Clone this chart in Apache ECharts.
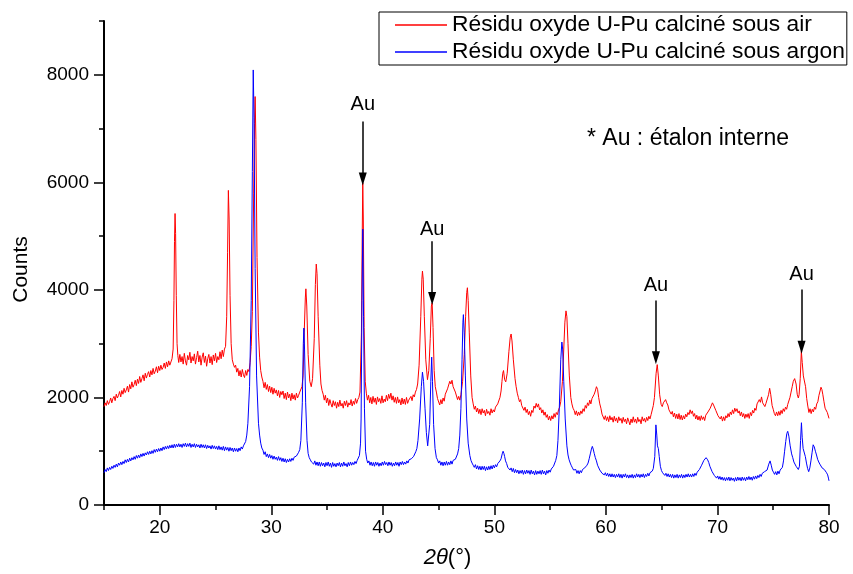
<!DOCTYPE html>
<html><head><meta charset="utf-8">
<script src="https://cdn.jsdelivr.net/npm/echarts@6/dist/echarts.min.js"></script>
<style>html,body{margin:0;padding:0;background:#fff}#c{width:853px;height:574px}</style>
</head><body><div id="c"></div>
<script>
const seriesNames = ['Résidu oxyde U-Pu calciné sous air', 'Résidu oxyde U-Pu calciné sous argon'];
const xAxisTitle = '{it|2θ}(°)';
const yAxisTitle = 'Counts';
const noteText = '* Au : étalon interne';
const markerLabel = 'Au';
const xTicks = [20, 30, 40, 50, 60, 70, 80];
const xMinorTicks = [15, 25, 35, 45, 55, 65, 75];
const yTicks = [0, 2000, 4000, 6000, 8000];
const yMinorTicks = [1000, 3000, 5000, 7000, 9000];

// [2θ, counts]
const airScan = [
[15.0,1830],[15.1,1900],[15.2,1850],[15.3,1940],[15.4,1870],[15.5,1920],[15.6,1990],[15.7,1900],[15.8,1980],[15.9,2020],
[16.0,1940],[16.1,2060],[16.2,1990],[16.3,2040],[16.4,2110],[16.5,2010],[16.6,2130],[16.7,2060],[16.8,2170],[16.9,2090],
[17.0,2140],[17.1,2210],[17.2,2100],[17.3,2240],[17.4,2160],[17.5,2290],[17.6,2190],[17.7,2240],[17.8,2320],[17.9,2220],
[18.0,2340],[18.1,2260],[18.2,2390],[18.3,2280],[18.4,2350],[18.5,2420],[18.6,2310],[18.7,2450],[18.8,2360],[18.9,2430],
[19.0,2480],[19.1,2380],[19.2,2500],[19.3,2420],[19.4,2540],[19.5,2440],[19.6,2490],[19.7,2570],[19.8,2460],[19.9,2580],
[20.0,2500],[20.1,2600],[20.2,2520],[20.3,2560],[20.4,2640],[20.5,2540],[20.6,2660],[20.7,2570],[20.8,2680],[20.9,2600],
[21.0,2660],[21.1,2720],[21.2,2900],[21.27,3800],[21.32,4900],[21.37,5420],[21.42,5050],[21.48,3900],[21.55,3000],[21.62,2780],
[21.7,2650],[21.8,2800],[21.9,2660],[22.0,2760],[22.1,2620],[22.2,2820],[22.3,2680],[22.4,2600],[22.5,2780],[22.6,2700],
[22.7,2840],[22.8,2640],[22.9,2760],[23.0,2680],[23.1,2810],[23.2,2620],[23.3,2740],[23.4,2860],[23.5,2660],[23.6,2780],
[23.7,2600],[23.8,2750],[23.9,2830],[24.0,2650],[24.1,2770],[24.2,2580],[24.3,2720],[24.4,2800],[24.5,2640],[24.6,2760],
[24.7,2610],[24.8,2790],[24.9,2680],[25.0,2820],[25.1,2650],[25.2,2760],[25.3,2700],[25.4,2850],[25.5,2720],[25.6,2880],
[25.7,2760],[25.8,2900],[25.9,2950],[26.0,3500],[26.08,4700],[26.15,5850],[26.22,5300],[26.3,3900],[26.4,3000],[26.5,2700],
[26.6,2620],[26.7,2560],[26.8,2600],[26.9,2470],[27.0,2540],[27.1,2400],[27.2,2500],[27.3,2380],[27.4,2520],[27.5,2420],
[27.6,2370],[27.7,2500],[27.8,2410],[27.9,2520],[28.0,2480],[28.1,2650],[28.2,2950],[28.3,3600],[28.42,5800],[28.5,7100],
[28.55,7595],[28.62,6800],[28.72,4600],[28.85,3200],[28.95,2750],[29.05,2500],[29.15,2380],[29.25,2300],[29.35,2180],[29.45,2280],
[29.55,2150],[29.65,2240],[29.75,2110],[29.85,2210],[29.95,2090],[30.05,2190],[30.15,2060],[30.25,2170],[30.35,2080],[30.45,2140],
[30.55,2030],[30.65,2130],[30.75,2000],[30.85,2110],[30.95,2050],[31.05,2120],[31.15,1980],[31.25,2080],[31.35,1960],[31.45,2100],
[31.55,1990],[31.65,2060],[31.75,1940],[31.85,2080],[31.95,1970],[32.05,2050],[32.15,1950],[32.25,2080],[32.35,1990],[32.45,2040],
[32.55,2100],[32.65,2070],[32.75,2200],[32.85,2400],[32.95,3200],[33.05,3850],[33.1,4020],[33.18,3700],[33.3,2800],[33.45,2300],
[33.58,2200],[33.7,2350],[33.85,3100],[33.95,4100],[34.03,4480],[34.1,4300],[34.2,3500],[34.35,2600],[34.45,2250],[34.55,2130],
[34.65,2060],[34.75,1950],[34.85,2040],[34.95,1900],[35.05,1990],[35.15,1850],[35.25,1960],[35.35,1880],[35.45,1820],[35.55,1940],
[35.65,1850],[35.75,1920],[35.85,1800],[35.95,1910],[36.05,1830],[36.15,1950],[36.25,1840],[36.35,1890],[36.45,1800],[36.55,1930],
[36.65,1850],[36.75,1940],[36.85,1820],[36.95,1900],[37.05,1860],[37.15,1960],[37.25,1840],[37.35,1930],[37.45,1870],[37.55,1980],
[37.65,1890],[37.75,1960],[37.85,2000],[37.95,2100],[38.08,3200],[38.15,5000],[38.2,5990],[38.25,5300],[38.32,3300],[38.42,2300],
[38.52,2080],[38.62,1950],[38.72,2040],[38.82,1900],[38.92,2000],[39.02,1880],[39.12,2020],[39.22,1910],[39.32,1990],[39.42,1870],
[39.52,2010],[39.62,1920],[39.72,1980],[39.82,1890],[39.92,2030],[40.02,1900],[40.12,1970],[40.22,1920],[40.32,2040],[40.42,1940],
[40.52,2060],[40.62,1980],[40.72,2080],[40.82,1950],[40.92,2030],[41.02,1910],[41.12,2000],[41.22,1890],[41.32,2010],[41.42,1900],
[41.52,1960],[41.62,1860],[41.72,1990],[41.82,1880],[41.92,1970],[42.02,1870],[42.12,2000],[42.22,1890],[42.32,1950],[42.42,1920],
[42.52,2020],[42.62,1940],[42.72,2050],[42.82,2010],[42.92,2100],[43.02,2150],[43.12,2250],[43.25,2600],[43.4,3500],[43.5,4200],
[43.55,4350],[43.62,4200],[43.72,3500],[43.85,2700],[44.0,2330],[44.12,2500],[44.25,3100],[44.35,3700],[44.42,3760],[44.5,3300],
[44.6,2500],[44.7,2200],[44.8,2100],[44.9,1980],[45.0,1950],[45.1,1860],[45.2,1960],[45.3,1880],[45.4,1990],[45.5,1930],
[45.6,2060],[45.7,2030],[45.8,2160],[45.9,2150],[46.0,2300],[46.1,2250],[46.2,2320],[46.3,2200],[46.4,2230],[46.5,2100],
[46.6,2080],[46.7,1960],[46.8,2020],[46.9,1950],[47.0,2050],[47.15,2300],[47.3,2800],[47.42,3500],[47.52,3950],[47.58,4040],
[47.65,3800],[47.75,3200],[47.88,2400],[48.0,2000],[48.1,1880],[48.2,1780],[48.3,1840],[48.4,1730],[48.5,1800],[48.6,1700],
[48.7,1780],[48.8,1680],[48.9,1790],[49.0,1710],[49.1,1760],[49.2,1660],[49.3,1780],[49.4,1700],[49.5,1740],[49.6,1670],
[49.7,1790],[49.8,1710],[49.9,1770],[50.0,1730],[50.1,1820],[50.2,1790],[50.3,1880],[50.4,1900],[50.5,2000],[50.6,2120],
[50.68,2300],[50.75,2450],[50.82,2500],[50.92,2330],[51.02,2290],[51.15,2450],[51.3,2850],[51.42,3120],[51.5,3180],[51.58,3050],
[51.7,2700],[51.85,2350],[51.95,2200],[52.05,2080],[52.15,2000],[52.25,1920],[52.35,1960],[52.45,1850],[52.55,1870],[52.65,1760],
[52.75,1820],[52.85,1720],[52.95,1780],[53.05,1680],[53.15,1740],[53.25,1650],[53.35,1760],[53.45,1720],[53.55,1840],[53.65,1800],
[53.75,1890],[53.85,1820],[53.95,1880],[54.05,1770],[54.15,1810],[54.25,1710],[54.35,1770],[54.45,1670],[54.55,1730],[54.65,1630],
[54.75,1680],[54.85,1580],[54.95,1650],[55.05,1570],[55.15,1660],[55.25,1600],[55.35,1700],[55.45,1630],[55.55,1720],[55.65,1680],
[55.75,1770],[55.85,1820],[55.95,1920],[56.1,2300],[56.22,2900],[56.32,3400],[56.42,3610],[56.5,3500],[56.6,3000],[56.72,2400],
[56.85,2000],[56.95,1880],[57.05,1800],[57.15,1760],[57.25,1680],[57.35,1750],[57.45,1660],[57.55,1730],[57.65,1670],[57.75,1750],
[57.85,1700],[57.95,1790],[58.05,1740],[58.15,1850],[58.25,1800],[58.35,1900],[58.45,1850],[58.55,1950],[58.65,1880],[58.75,1980],
[58.85,1970],[58.95,2060],[59.05,2120],[59.15,2200],[59.25,2150],[59.35,2000],[59.45,1880],[59.55,1800],[59.65,1690],[59.75,1680],
[59.85,1590],[59.95,1660],[60.05,1570],[60.15,1640],[60.25,1550],[60.35,1660],[60.45,1580],[60.55,1630],[60.65,1540],[60.75,1650],
[60.85,1560],[60.95,1620],[61.05,1530],[61.15,1640],[61.25,1570],[61.35,1610],[61.45,1520],[61.55,1630],[61.65,1550],[61.75,1600],
[61.85,1510],[61.95,1620],[62.05,1560],[62.15,1490],[62.25,1600],[62.35,1530],[62.45,1640],[62.55,1540],[62.65,1600],[62.75,1520],
[62.85,1630],[62.95,1550],[63.05,1590],[63.15,1510],[63.25,1640],[63.35,1560],[63.45,1610],[63.55,1540],[63.65,1630],[63.75,1570],
[63.85,1650],[63.95,1600],[64.05,1680],[64.15,1700],[64.25,1850],[64.35,2000],[64.5,2450],[64.6,2610],[64.7,2400],[64.82,2050],
[64.95,1870],[65.05,1830],[65.15,1900],[65.25,1870],[65.35,1960],[65.45,1900],[65.55,1860],[65.65,1770],[65.75,1790],[65.85,1690],
[65.95,1740],[66.05,1640],[66.15,1710],[66.25,1610],[66.35,1690],[66.45,1600],[66.55,1700],[66.65,1590],[66.75,1670],[66.85,1580],
[66.95,1660],[67.05,1600],[67.15,1690],[67.25,1640],[67.35,1720],[67.45,1680],[67.55,1770],[67.65,1700],[67.75,1750],[67.85,1650],
[67.95,1700],[68.05,1600],[68.15,1670],[68.25,1580],[68.35,1650],[68.45,1570],[68.55,1660],[68.65,1590],[68.75,1640],[68.85,1570],
[68.95,1670],[69.05,1640],[69.15,1730],[69.25,1720],[69.35,1800],[69.45,1820],[69.55,1900],[69.65,1860],[69.75,1840],[69.85,1760],
[69.95,1750],[70.05,1660],[70.15,1690],[70.25,1600],[70.35,1650],[70.45,1560],[70.55,1640],[70.65,1570],[70.75,1660],[70.85,1620],
[70.95,1700],[71.05,1640],[71.15,1730],[71.25,1680],[71.35,1770],[71.45,1700],[71.55,1800],[71.65,1740],[71.75,1790],[71.85,1710],
[71.95,1750],[72.05,1660],[72.15,1730],[72.25,1640],[72.35,1700],[72.45,1610],[72.55,1690],[72.65,1630],[72.75,1700],[72.85,1610],
[72.95,1720],[73.05,1660],[73.15,1760],[73.25,1710],[73.35,1800],[73.45,1760],[73.55,1880],[73.65,1850],[73.75,1960],[73.85,1910],
[73.95,2010],[74.05,1900],[74.15,1930],[74.25,1830],[74.35,1890],[74.45,1880],[74.58,2050],[74.68,2170],[74.78,2050],[74.9,1850],
[75.0,1780],[75.1,1700],[75.2,1660],[75.3,1730],[75.4,1660],[75.5,1740],[75.6,1670],[75.7,1760],[75.8,1700],[75.9,1790],
[76.0,1740],[76.1,1820],[76.2,1780],[76.3,1870],[76.4,1900],[76.5,2000],[76.6,2100],[76.7,2200],[76.8,2300],[76.92,2350],
[77.05,2250],[77.15,2060],[77.25,1990],[77.32,2050],[77.42,2350],[77.52,2860],[77.6,2650],[77.7,2400],[77.8,2420],[77.9,2200],
[78.0,1980],[78.1,1840],[78.2,1720],[78.3,1790],[78.4,1700],[78.5,1780],[78.6,1730],[78.7,1820],[78.8,1780],[78.9,1880],
[79.0,1920],[79.1,2040],[79.2,2120],[79.28,2190],[79.36,2150],[79.45,2050],[79.55,1920],[79.65,1800],[79.75,1790],[79.85,1720],
[79.92,1720],[80.0,1610]
];

// [2θ, counts]
const argonScan = [
[15.0,600],[15.1,660],[15.2,620],[15.3,690],[15.4,640],[15.5,700],[15.6,660],[15.7,720],[15.8,680],[15.9,740],
[16.0,700],[16.1,760],[16.2,710],[16.3,780],[16.4,740],[16.5,800],[16.6,750],[16.7,810],[16.8,770],[16.9,840],
[17.0,790],[17.1,850],[17.2,800],[17.3,870],[17.4,820],[17.5,880],[17.6,840],[17.7,900],[17.8,850],[17.9,920],
[18.0,870],[18.1,930],[18.2,880],[18.3,950],[18.4,900],[18.5,960],[18.6,910],[18.7,970],[18.8,930],[18.9,990],
[19.0,940],[19.1,1000],[19.2,950],[19.3,1010],[19.4,960],[19.5,1030],[19.6,980],[19.7,1040],[19.8,990],[19.9,1050],
[20.0,1000],[20.1,1060],[20.2,1010],[20.3,1080],[20.4,1030],[20.5,1090],[20.6,1040],[20.7,1100],[20.8,1050],[20.9,1110],
[21.0,1060],[21.1,1120],[21.2,1060],[21.3,1130],[21.4,1070],[21.5,1130],[21.6,1080],[21.7,1140],[21.8,1080],[21.9,1130],
[22.0,1070],[22.1,1140],[22.2,1090],[22.3,1150],[22.4,1080],[22.5,1140],[22.6,1090],[22.7,1150],[22.8,1070],[22.9,1130],
[23.0,1080],[23.1,1140],[23.2,1070],[23.3,1130],[23.4,1080],[23.5,1120],[23.6,1060],[23.7,1130],[23.8,1070],[23.9,1120],
[24.0,1060],[24.1,1120],[24.2,1050],[24.3,1110],[24.4,1060],[24.5,1100],[24.6,1040],[24.7,1110],[24.8,1050],[24.9,1100],
[25.0,1040],[25.1,1090],[25.2,1030],[25.3,1100],[25.4,1030],[25.5,1080],[25.6,1020],[25.7,1090],[25.8,1010],[25.9,1080],
[26.0,1020],[26.1,1070],[26.2,1000],[26.3,1070],[26.4,1010],[26.5,1060],[26.6,990],[26.7,1060],[26.8,1000],[26.9,1050],
[27.0,990],[27.1,1060],[27.2,1010],[27.3,1080],[27.4,1040],[27.5,1100],[27.6,1090],[27.7,1180],[27.8,1300],[27.9,1520],
[28.05,2200],[28.2,3800],[28.3,6200],[28.38,8090],[28.45,7200],[28.55,4400],[28.68,2400],[28.85,1520],[28.95,1300],[29.05,1150],
[29.15,1060],[29.25,1020],[29.35,940],[29.45,990],[29.55,900],[29.65,950],[29.75,880],[29.85,940],[29.95,870],[30.05,920],
[30.15,850],[30.25,910],[30.35,850],[30.45,890],[30.55,830],[30.65,900],[30.75,830],[30.85,880],[30.95,810],[31.05,870],
[31.15,800],[31.25,860],[31.35,790],[31.45,850],[31.55,800],[31.65,860],[31.75,810],[31.85,870],[31.95,830],[32.05,890],
[32.15,860],[32.25,910],[32.35,920],[32.45,980],[32.55,1030],[32.65,1200],[32.78,1900],[32.87,3000],[32.92,3290],[32.98,2900],
[33.08,1900],[33.2,1200],[33.3,960],[33.4,880],[33.5,840],[33.6,800],[33.7,830],[33.8,760],[33.9,820],[34.0,740],
[34.1,800],[34.2,730],[34.3,800],[34.4,720],[34.5,790],[34.6,730],[34.7,780],[34.8,710],[34.9,790],[35.0,730],
[35.1,800],[35.2,720],[35.3,780],[35.4,700],[35.5,790],[35.6,720],[35.7,770],[35.8,710],[35.9,780],[36.0,730],
[36.1,790],[36.2,710],[36.3,780],[36.4,720],[36.5,800],[36.6,730],[36.7,770],[36.8,710],[36.9,790],[37.0,730],
[37.1,800],[37.2,740],[37.3,790],[37.4,750],[37.5,810],[37.6,770],[37.7,830],[37.8,850],[37.9,920],[38.0,1150],
[38.05,1600],[38.13,3800],[38.2,5130],[38.27,3500],[38.35,1800],[38.45,1000],[38.55,850],[38.65,780],[38.75,820],[38.85,740],
[38.95,800],[39.05,730],[39.15,790],[39.25,720],[39.35,800],[39.45,740],[39.55,790],[39.65,720],[39.75,780],[39.85,730],
[39.95,800],[40.05,740],[40.15,810],[40.25,750],[40.35,790],[40.45,730],[40.55,800],[40.65,740],[40.75,790],[40.85,720],
[40.95,780],[41.05,730],[41.15,800],[41.25,740],[41.35,790],[41.45,720],[41.55,800],[41.65,750],[41.75,810],[41.85,750],
[41.95,800],[42.05,760],[42.15,820],[42.25,780],[42.35,840],[42.45,810],[42.55,860],[42.65,850],[42.75,900],[42.85,920],
[42.95,990],[43.05,1050],[43.15,1200],[43.3,1600],[43.45,2200],[43.55,2470],[43.65,2300],[43.78,1800],[43.9,1350],[44.02,1100],
[44.1,1120],[44.2,1500],[44.3,2300],[44.38,2750],[44.45,2300],[44.55,1500],[44.68,1050],[44.8,880],[44.9,840],[45.0,780],
[45.1,820],[45.2,740],[45.3,800],[45.4,730],[45.5,800],[45.6,740],[45.7,810],[45.8,740],[45.9,800],[46.0,750],
[46.1,820],[46.2,760],[46.3,830],[46.4,800],[46.5,850],[46.6,860],[46.7,950],[46.8,1050],[46.9,1300],[47.0,1800],
[47.1,2700],[47.18,3400],[47.22,3540],[47.3,3200],[47.4,2400],[47.52,1600],[47.65,1150],[47.8,920],[47.9,830],[48.0,780],
[48.1,740],[48.2,700],[48.3,750],[48.4,670],[48.5,730],[48.6,660],[48.7,720],[48.8,650],[48.9,720],[49.0,660],
[49.1,720],[49.2,640],[49.3,710],[49.4,650],[49.5,720],[49.6,660],[49.7,730],[49.8,670],[49.9,740],[50.0,690],
[50.1,750],[50.2,710],[50.3,770],[50.4,760],[50.5,820],[50.6,860],[50.7,950],[50.78,1000],[50.85,960],[50.92,900],
[51.0,820],[51.1,770],[51.2,700],[51.3,720],[51.4,650],[51.5,690],[51.6,620],[51.7,680],[51.8,600],[51.9,660],
[52.0,600],[52.1,650],[52.2,580],[52.3,640],[52.4,590],[52.5,650],[52.6,570],[52.7,640],[52.8,580],[52.9,650],
[53.0,590],[53.1,640],[53.2,570],[53.3,650],[53.4,580],[53.5,630],[53.6,560],[53.7,640],[53.8,570],[53.9,630],
[54.0,580],[54.1,640],[54.2,570],[54.3,650],[54.4,580],[54.5,630],[54.6,560],[54.7,640],[54.8,590],[54.9,650],
[55.0,610],[55.1,670],[55.2,650],[55.3,720],[55.4,750],[55.5,830],[55.6,920],[55.7,1200],[55.82,1800],[55.95,2700],
[56.05,3030],[56.12,2900],[56.22,2300],[56.35,1600],[56.5,1100],[56.6,930],[56.7,840],[56.8,780],[56.9,730],[57.0,690],
[57.1,650],[57.2,620],[57.3,660],[57.4,590],[57.5,640],[57.6,580],[57.7,640],[57.8,600],[57.9,660],[58.0,630],
[58.1,690],[58.2,680],[58.3,740],[58.4,780],[58.5,860],[58.6,950],[58.7,1040],[58.78,1090],[58.86,1040],[58.95,960],
[59.05,880],[59.15,820],[59.25,740],[59.35,720],[59.45,650],[59.55,660],[59.65,590],[59.75,620],[59.85,560],[59.95,600],
[60.05,540],[60.15,590],[60.25,530],[60.35,580],[60.45,520],[60.55,580],[60.65,520],[60.75,570],[60.85,510],[60.95,570],
[61.05,520],[61.15,580],[61.25,510],[61.35,570],[61.45,500],[61.55,570],[61.65,520],[61.75,580],[61.85,510],[61.95,560],
[62.05,500],[62.15,560],[62.25,510],[62.35,570],[62.45,500],[62.55,560],[62.65,510],[62.75,580],[62.85,520],[62.95,570],
[63.05,510],[63.15,570],[63.25,520],[63.35,580],[63.45,510],[63.55,570],[63.65,530],[63.75,590],[63.85,540],[63.95,600],
[64.05,570],[64.15,630],[64.25,680],[64.38,900],[64.48,1490],[64.56,1300],[64.62,1100],[64.7,1050],[64.78,900],[64.88,720],
[64.98,640],[65.08,600],[65.18,620],[65.28,550],[65.38,590],[65.48,530],[65.58,580],[65.68,520],[65.78,570],[65.88,510],
[65.98,570],[66.08,500],[66.18,560],[66.28,510],[66.38,570],[66.48,500],[66.58,560],[66.68,510],[66.78,570],[66.88,500],
[66.98,560],[67.08,510],[67.18,570],[67.28,520],[67.38,580],[67.48,520],[67.58,570],[67.68,520],[67.78,580],[67.88,530],
[67.98,590],[68.08,550],[68.18,610],[68.28,600],[68.38,660],[68.48,680],[68.58,740],[68.68,770],[68.78,830],[68.88,850],
[68.98,880],[69.05,880],[69.12,840],[69.22,790],[69.32,720],[69.42,690],[69.52,620],[69.62,610],[69.72,550],[69.82,560],
[69.92,500],[70.02,540],[70.12,480],[70.22,530],[70.32,470],[70.42,520],[70.52,460],[70.62,510],[70.72,450],[70.82,510],
[70.92,460],[71.02,520],[71.12,450],[71.22,510],[71.32,460],[71.42,500],[71.52,440],[71.62,510],[71.72,450],[71.82,520],
[71.92,460],[72.02,510],[72.12,450],[72.22,520],[72.32,460],[72.42,510],[72.52,450],[72.62,520],[72.72,470],[72.82,530],
[72.92,470],[73.02,520],[73.12,460],[73.22,530],[73.32,480],[73.42,540],[73.52,490],[73.62,550],[73.72,510],[73.82,570],
[73.92,530],[74.02,590],[74.12,560],[74.22,620],[74.32,600],[74.45,650],[74.6,760],[74.72,820],[74.82,740],[74.92,650],
[75.02,610],[75.12,570],[75.22,620],[75.32,560],[75.42,630],[75.52,580],[75.62,650],[75.72,620],[75.82,700],[75.92,820],
[76.02,1000],[76.12,1180],[76.22,1330],[76.3,1370],[76.4,1280],[76.52,1100],[76.65,950],[76.75,880],[76.85,800],[76.95,770],
[77.05,720],[77.15,700],[77.25,660],[77.35,720],[77.45,1200],[77.53,1530],[77.6,1250],[77.68,1050],[77.78,1030],[77.88,900],
[77.98,780],[78.08,680],[78.18,620],[78.28,690],[78.38,820],[78.48,970],[78.58,1120],[78.68,1080],[78.78,1000],[78.88,930],
[78.98,850],[79.08,800],[79.18,760],[79.28,730],[79.38,690],[79.48,720],[79.58,660],[79.68,680],[79.78,600],[79.88,560],
[79.95,500],[80.0,450]
];

// Au reference arrows: angle, arrow start (counts), arrow tip (counts)
const auAngles = [38.2, 44.42, 64.48, 77.54];
const auArrowTop = [7133, 4904, 3805, 4007];
const auArrowTip = [6064, 3842, 2737, 2934];

const FONT = '"Liberation Sans", Arial, sans-serif';
const labelGaps = [7, 2, 5, 5];
const chart = echarts.init(document.getElementById('c'), null, {renderer: 'canvas'});

const markData = auAngles.map((a, i) => [
  {coord: [a, auArrowTop[i]], label: {distance: labelGaps[i]}},
  {coord: [a, auArrowTip[i]]}
]);

const option = {
  animation: false,
  backgroundColor: '#ffffff',
  grid: {left: 104, right: 24, top: 21, bottom: 65, containLabel: false},
  legend: {
    data: seriesNames.map(n => ({name: n, icon: 'rect'})),
    orient: 'vertical', left: 379, top: 12,
    itemWidth: 52, itemHeight: 1.5, itemGap: 1,
    padding: [0, 2, 0, 16],
    borderColor: '#000', borderWidth: 1, backgroundColor: '#fff',
    textStyle: {fontSize: 22.8, fontFamily: FONT, color: '#000', lineHeight: 26},
    selectedMode: false
  },
  xAxis: [{
    type: 'value', min: 15, max: 80, position: 'bottom', gridIndex: 0,
    name: xAxisTitle, nameLocation: 'middle', nameGap: 42,
    nameTextStyle: {fontSize: 22, fontFamily: FONT, color: '#000', padding: [0, 38, 0, 0],
      rich: {it: {fontStyle: 'italic', fontSize: 22, fontFamily: FONT, color: '#000'}}},
    axisLine: {onZero: false, lineStyle: {color: '#000', width: 2}},
    axisTick: {customValues: xTicks, length: 10, lineStyle: {color: '#000', width: 1.5}},
    axisLabel: {customValues: xTicks, color: '#000', fontSize: 19, fontFamily: FONT, margin: 13,
      formatter: v => String(v)},
    splitLine: {show: false}
  }, {
    type: 'value', min: 15, max: 80, position: 'bottom', gridIndex: 0,
    axisLine: {show: false},
    axisTick: {customValues: xMinorTicks, length: 5, lineStyle: {color: '#000', width: 1.5}},
    axisLabel: {show: false}, splitLine: {show: false}
  }],
  yAxis: [{
    type: 'value', min: 0, max: 9000, position: 'left', gridIndex: 0,
    name: yAxisTitle, nameLocation: 'middle', nameGap: 72, nameRotate: 90,
    nameTextStyle: {fontSize: 21, fontFamily: FONT, color: '#000', padding: [0, 13, 0, 0]},
    axisLine: {onZero: false, lineStyle: {color: '#000', width: 2}},
    axisTick: {customValues: yTicks, length: 10, lineStyle: {color: '#000', width: 1.5}},
    axisLabel: {customValues: yTicks, color: '#000', fontSize: 19, fontFamily: FONT, margin: 15,
      formatter: v => String(v)},
    splitLine: {show: false}
  }, {
    type: 'value', min: 0, max: 9000, position: 'left', gridIndex: 0,
    axisLine: {show: false},
    axisTick: {customValues: yMinorTicks, length: 5, lineStyle: {color: '#000', width: 1.5}},
    axisLabel: {show: false}, splitLine: {show: false}
  }],
  graphic: [{
    type: 'text', left: 587, top: 127,
    style: {text: noteText, fontSize: 23, fontFamily: FONT, fill: '#000'}
  }],
  series: [{
    type: 'line', name: seriesNames[0], data: airScan, xAxisIndex: 0, yAxisIndex: 0,
    symbol: 'none', showSymbol: false, lineStyle: {color: '#ff0000', width: 1}, itemStyle: {color: '#ff0000'},
    emphasis: {disabled: true}, z: 2,
    markLine: {
      silent: true, symbol: ['none', 'triangle'], symbolSize: [8, 13],
      lineStyle: {color: '#000', width: 1.5, type: 'solid'},
      label: {show: true, position: 'start', formatter: markerLabel, fontSize: 20, fontFamily: FONT, color: '#000'},
      emphasis: {disabled: true},
      data: markData
    }
  }, {
    type: 'line', name: seriesNames[1], data: argonScan, xAxisIndex: 0, yAxisIndex: 0,
    symbol: 'none', showSymbol: false, lineStyle: {color: '#0000ff', width: 1}, itemStyle: {color: '#0000ff'},
    emphasis: {disabled: true}, z: 3
  }]
};
chart.setOption(option);
</script>
</body></html>
